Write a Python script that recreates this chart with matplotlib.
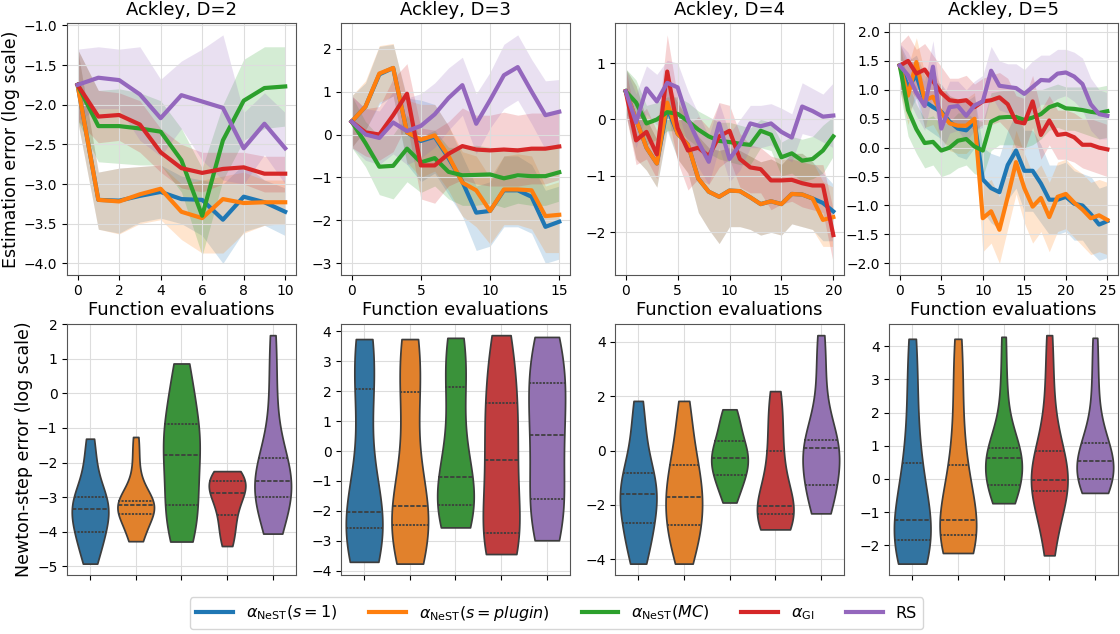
import matplotlib.pyplot as plt
import numpy as np
import pandas as pd
import seaborn as sns
from matplotlib.ticker import MultipleLocator

methods = ["NeST1", "NeSTplugin", "NeSTMC", "GI", "RS"]
labels = [r"$\alpha_{\mathrm{NeST}}(s=1)$", r"$\alpha_{\mathrm{NeST}}(s=plugin)$",
          r"$\alpha_{\mathrm{NeST}}(MC)$", r"$\alpha_{\mathrm{GI}}$", "RS"]
colors = ["#1f77b4", "#ff7f0e", "#2ca02c", "#d62728", "#9467bd"]
dims = [2, 3, 4, 5]

# estimation error curves: mean, lower and upper band per method
d2_mean = [
    [-1.75, -3.20, -3.21, -3.15, -3.10, -3.19, -3.20, -3.45, -3.16, -3.23, -3.35],
    [-1.75, -3.20, -3.22, -3.13, -3.06, -3.35, -3.43, -3.19, -3.24, -3.23, -3.23],
    [-1.75, -2.27, -2.27, -2.30, -2.34, -2.70, -3.40, -2.45, -1.95, -1.79, -1.77],
    [-1.75, -2.15, -2.13, -2.25, -2.60, -2.80, -2.86, -2.81, -2.79, -2.87, -2.87],
    [-1.75, -1.66, -1.69, -1.87, -2.17, -1.88, -1.96, -2.04, -2.55, -2.24, -2.55],
]
d2_low = [
    [-2.2, -3.57, -3.62, -3.48, -3.43, -3.50, -3.65, -4.00, -3.60, -3.52, -3.65],
    [-2.2, -3.57, -3.63, -3.50, -3.45, -3.70, -3.87, -3.87, -3.62, -3.52, -3.50],
    [-2.2, -2.72, -2.74, -2.76, -2.76, -3.10, -3.90, -2.95, -2.45, -2.30, -2.27],
    [-2.2, -2.48, -2.45, -2.60, -2.85, -3.05, -3.10, -3.00, -3.00, -3.10, -3.10],
    [-2.2, -2.05, -2.05, -2.45, -2.65, -2.30, -2.70, -2.95, -3.00, -2.63, -3.00],
]
d2_high = [
    [-1.3, -2.85, -2.80, -2.78, -2.76, -2.90, -2.95, -3.00, -2.75, -2.95, -3.05],
    [-1.3, -2.85, -2.80, -2.78, -2.76, -3.00, -2.95, -2.90, -2.85, -2.95, -2.95],
    [-1.3, -1.82, -1.80, -1.85, -1.95, -2.30, -2.80, -2.00, -1.43, -1.27, -1.27],
    [-1.3, -1.82, -1.85, -1.95, -2.30, -2.50, -2.60, -2.60, -2.60, -2.65, -2.65],
    [-1.3, -1.27, -1.30, -1.27, -1.68, -1.45, -1.30, -1.12, -2.10, -1.85, -2.10],
]

d3_mean = [
    [0.3, 0.65, 1.40, 1.55, 0.05, -0.15, -0.05, -0.55, -1.10, -1.82, -1.78, -1.30, -1.30, -1.45, -2.15, -2.03],
    [0.3, 0.65, 1.42, 1.55, 0.05, -0.12, -0.02, -0.50, -1.12, -1.30, -1.78, -1.28, -1.28, -1.30, -1.90, -1.87],
    [0.3, -0.20, -0.75, -0.73, -0.33, -0.65, -0.55, -0.87, -0.95, -0.94, -0.93, -1.02, -0.95, -0.97, -0.97, -0.88],
    [0.3, 0.05, 0.00, 0.45, 0.95, -0.72, -0.72, -0.45, -0.27, -0.35, -0.37, -0.35, -0.37, -0.33, -0.33, -0.28],
    [0.3, 0.00, -0.08, 0.28, 0.08, 0.20, 0.47, 0.85, 1.15, 0.25, 0.80, 1.38, 1.57, 1.00, 0.45, 0.53],
]
d3_low = [
    [-0.3, 0.10, 0.70, 0.90, -0.70, -1.10, -0.90, -1.40, -1.90, -2.70, -2.60, -2.15, -2.15, -2.30, -3.00, -2.90],
    [-0.3, 0.10, 0.75, 0.90, -0.65, -1.00, -0.85, -1.30, -1.90, -2.15, -2.55, -2.10, -2.10, -2.20, -2.75, -2.75],
    [-0.3, -0.75, -1.40, -1.50, -1.10, -1.35, -1.20, -1.50, -1.65, -1.65, -1.60, -1.70, -1.60, -1.65, -1.65, -1.55],
    [-0.3, -0.50, -0.60, -0.40, 0.25, -1.50, -1.60, -1.20, -1.05, -1.15, -1.20, -1.20, -1.20, -1.15, -1.15, -1.05],
    [-0.3, -0.60, -0.70, -0.45, -0.70, -0.55, -0.30, 0.10, 0.45, -0.45, 0.15, 0.60, 0.80, 0.25, -0.35, -0.25],
]
d3_high = [
    [0.9, 1.20, 2.05, 2.10, 0.85, 0.80, 0.70, 0.20, -0.50, -1.20, -1.10, -0.50, -0.50, -0.70, -1.30, -1.20],
    [0.9, 1.25, 2.07, 2.12, 0.80, 0.70, 0.70, 0.20, -0.40, -0.50, -1.00, -0.50, -0.45, -0.50, -1.20, -1.10],
    [0.9, 0.30, -0.05, 0.00, 0.45, -0.05, 0.10, -0.30, -0.30, -0.25, -0.30, -0.35, -0.30, -0.30, -0.30, -0.20],
    [0.9, 0.60, 0.65, 1.30, 1.65, 0.15, 0.10, 0.30, 0.62, 0.45, 0.45, 0.52, 0.45, 0.50, 0.50, 0.50],
    [0.9, 0.60, 0.55, 1.00, 0.85, 0.95, 1.20, 1.55, 1.80, 0.95, 1.45, 2.10, 2.32, 1.75, 1.25, 1.28],
]

d4_mean = [
    [0.5, 0.00, -0.50, -0.78, 0.20, -0.25, -0.45, -1.05, -1.28, -1.37, -1.26, -1.27, -1.38, -1.50, -1.45, -1.50, -1.32, -1.33, -1.40, -1.48, -1.63],
    [0.5, 0.00, -0.50, -0.78, 0.30, -0.25, -0.45, -1.05, -1.28, -1.37, -1.26, -1.27, -1.38, -1.50, -1.45, -1.50, -1.32, -1.33, -1.40, -1.78, -1.73],
    [0.5, 0.30, -0.07, 0.00, 0.13, 0.10, -0.03, -0.18, -0.30, -0.38, -0.40, -0.43, -0.45, -0.20, -0.27, -0.67, -0.60, -0.73, -0.70, -0.55, -0.30],
    [0.5, -0.37, -0.22, -0.62, 0.85, -0.15, -0.55, -0.50, -0.65, -0.30, -0.20, -0.70, -0.85, -0.88, -1.08, -1.08, -1.07, -1.13, -1.17, -1.17, -2.05],
    [0.5, -0.05, 0.55, 0.32, 0.65, 0.57, 0.00, -0.40, -0.75, -0.07, -0.70, -0.45, -0.07, -0.12, -0.07, -0.22, -0.32, 0.23, 0.15, 0.05, 0.07],
]
d4_low = [
    [0.1, -0.70, -0.90, -1.20, -0.20, -0.70, -0.95, -1.65, -1.95, -2.20, -1.90, -1.90, -1.95, -2.05, -2.00, -2.05, -1.85, -1.90, -1.95, -2.15, -2.15],
    [0.1, -0.70, -0.90, -1.20, -0.15, -0.70, -0.95, -1.65, -1.95, -2.20, -1.90, -1.90, -1.95, -2.05, -2.00, -2.05, -1.85, -1.90, -1.95, -2.25, -2.25],
    [0.1, -0.10, -0.45, -0.35, -0.20, -0.20, -0.35, -0.50, -0.60, -0.70, -0.75, -0.80, -0.80, -0.50, -0.55, -1.00, -0.95, -1.10, -1.05, -0.95, -0.65],
    [0.1, -0.80, -0.70, -1.05, 0.15, -0.75, -1.25, -1.05, -1.15, -0.85, -0.70, -1.20, -1.30, -1.30, -1.60, -1.50, -1.45, -1.55, -1.60, -1.65, -2.55],
    [0.1, -0.50, 0.10, -0.10, 0.25, 0.15, -0.45, -0.85, -1.15, -0.50, -1.10, -0.90, -0.50, -0.50, -0.45, -0.65, -0.75, -0.25, -0.30, -0.40, -0.50],
]
d4_high = [
    [0.9, 0.60, 0.00, -0.35, 0.60, 0.30, 0.00, -0.30, -0.50, -0.55, -0.50, -0.55, -0.65, -0.75, -0.70, -0.80, -0.60, -0.60, -0.75, -0.95, -1.15],
    [0.9, 0.60, 0.00, -0.35, 0.70, 0.30, 0.00, -0.30, -0.50, -0.55, -0.50, -0.55, -0.65, -0.75, -0.70, -0.80, -0.60, -0.60, -0.75, -1.10, -1.20],
    [0.9, 0.70, 0.25, 0.30, 0.40, 0.40, 0.30, 0.15, 0.05, -0.05, -0.05, -0.10, -0.15, 0.00, -0.05, -0.40, -0.30, -0.35, -0.30, -0.10, 0.05],
    [0.9, 0.00, 0.20, -0.20, 1.50, 0.40, -0.10, 0.05, -0.15, 0.30, 0.25, -0.25, -0.45, -0.50, -0.65, -0.70, -0.70, -0.75, -0.80, -0.80, -1.60],
    [0.9, 0.45, 0.95, 0.80, 1.05, 1.00, 0.50, 0.10, -0.30, 0.30, -0.25, 0.00, 0.25, 0.25, 0.28, 0.20, 0.10, 0.65, 0.55, 0.45, 0.65],
]

d5_mean = [
    [1.42, 1.05, 1.25, 0.80, 0.70, 0.62, 0.45, 0.33, 0.30, 0.45, -0.55, -0.70, -0.77, -0.30, -0.05, -0.40, -0.40, -0.62, -0.90, -0.90, -0.85, -0.97, -1.00, -1.15, -1.33, -1.27],
    [1.42, 0.90, 1.48, 0.82, 0.88, 0.60, 0.42, 0.38, 0.38, 0.50, -1.22, -1.10, -1.42, -0.85, -0.25, -0.70, -1.02, -0.87, -1.20, -0.85, -0.80, -0.95, -1.07, -1.22, -1.17, -1.25],
    [1.42, 0.65, 0.32, 0.08, 0.10, -0.05, 0.00, 0.12, 0.15, 0.02, -0.05, 0.45, 0.52, 0.53, 0.53, 0.48, 0.52, 0.58, 0.70, 0.75, 0.68, 0.67, 0.65, 0.62, 0.60, 0.63],
    [1.42, 1.50, 1.28, 1.35, 1.15, 0.95, 0.82, 0.80, 0.82, 0.70, 0.80, 0.82, 0.87, 0.75, 0.45, 0.42, 0.80, 0.22, 0.47, 0.22, 0.24, 0.18, 0.05, 0.05, 0.00, -0.03],
    [1.42, 1.25, 0.95, 0.72, 1.40, 0.33, 0.70, 0.72, 0.55, 0.73, 0.80, 1.33, 1.07, 1.05, 1.03, 0.93, 1.05, 1.17, 1.16, 1.28, 1.30, 1.23, 1.10, 0.75, 0.58, 0.55],
]
d5_low = [
    [1.0, 0.60, 0.85, 0.35, 0.25, 0.15, 0.00, -0.15, -0.20, 0.00, -1.10, -1.30, -1.40, -0.90, -0.70, -1.10, -1.10, -1.30, -1.50, -1.50, -1.45, -1.60, -1.60, -1.80, -1.95, -1.90],
    [1.0, 0.40, 1.05, 0.35, 0.40, 0.15, -0.05, -0.10, -0.10, 0.05, -1.80, -1.65, -2.00, -1.40, -0.80, -1.30, -1.65, -1.45, -1.80, -1.45, -1.40, -1.55, -1.70, -1.85, -1.80, -1.85],
    [1.0, 0.20, -0.10, -0.35, -0.30, -0.50, -0.45, -0.35, -0.30, -0.45, -0.50, -0.05, 0.05, 0.05, 0.05, 0.00, 0.05, 0.15, 0.30, 0.35, 0.30, 0.30, 0.25, 0.20, 0.15, 0.18],
    [1.0, 1.05, 0.85, 0.90, 0.70, 0.50, 0.40, 0.40, 0.40, 0.30, 0.40, 0.40, 0.45, 0.30, 0.00, -0.05, 0.35, -0.20, 0.05, -0.20, -0.20, -0.25, -0.35, -0.40, -0.45, -0.50],
    [1.0, 0.85, 0.55, 0.30, 0.95, -0.10, 0.25, 0.30, 0.10, 0.30, 0.35, 0.90, 0.65, 0.60, 0.60, 0.50, 0.60, 0.75, 0.75, 0.85, 0.90, 0.80, 0.65, 0.30, 0.15, 0.15],
]
d5_high = [
    [1.8, 1.50, 1.60, 1.25, 1.15, 1.10, 0.90, 0.80, 0.80, 0.90, 0.00, -0.10, -0.15, 0.30, 0.60, 0.30, 0.30, 0.05, -0.30, -0.30, -0.25, -0.40, -0.45, -0.50, -0.70, -0.65],
    [1.8, 1.40, 1.90, 1.30, 1.35, 1.05, 0.90, 0.85, 0.85, 0.95, -0.65, -0.55, -0.85, -0.30, 0.30, -0.10, -0.45, -0.30, -0.60, -0.25, -0.20, -0.35, -0.45, -0.60, -0.55, -0.60],
    [1.8, 1.10, 0.75, 0.50, 0.55, 0.40, 0.45, 0.60, 0.60, 0.50, 0.45, 0.95, 0.98, 1.00, 1.00, 0.95, 1.00, 1.00, 1.05, 1.10, 1.05, 1.05, 1.05, 1.05, 1.05, 1.08],
    [1.8, 1.95, 1.70, 1.80, 1.60, 1.40, 1.20, 1.20, 1.25, 1.10, 1.20, 1.25, 1.30, 1.20, 0.90, 0.85, 1.25, 0.65, 0.90, 0.65, 0.65, 0.60, 0.50, 0.50, 0.45, 0.40],
    [1.8, 1.65, 1.35, 1.15, 1.85, 0.80, 1.15, 1.15, 1.00, 1.15, 1.25, 1.75, 1.50, 1.45, 1.45, 1.35, 1.50, 1.60, 1.60, 1.70, 1.70, 1.65, 1.55, 1.20, 1.00, 0.95],
]

# Newton-step errors (log scale), one sample list per method
d2_newton = [
    [-4.93, -4.70, -4.40, -4.15, -4.00, -3.85, -3.70, -3.50, -3.35, -3.25, -3.15, -3.05, -2.99, -2.70, -2.30, -1.80, -1.31],
    [-4.28, -4.20, -4.00, -3.75, -3.49, -3.43, -3.36, -3.30, -3.23, -3.20, -3.17, -3.14, -3.11, -2.80, -2.40, -1.80, -1.26],
    [-4.29, -4.10, -3.80, -3.50, -3.24, -2.90, -2.50, -2.10, -1.77, -1.55, -1.30, -1.10, -0.88, -0.50, 0.00, 0.50, 0.87],
    [-4.42, -4.20, -3.95, -3.70, -3.51, -3.30, -3.10, -3.00, -2.87, -2.80, -2.70, -2.60, -2.55, -2.45, -2.35, -2.28, -2.25],
    [-4.06, -3.80, -3.50, -3.20, -2.99, -2.90, -2.75, -2.65, -2.55, -2.35, -2.15, -2.00, -1.86, -1.20, -0.30, 0.70, 1.69],
]
d3_newton = [
    [-3.70, -3.50, -3.20, -2.90, -2.57, -2.45, -2.30, -2.15, -2.03, -1.50, -0.50, 0.80, 2.06, 2.60, 3.10, 3.50, 3.74],
    [-3.76, -3.50, -3.10, -2.80, -2.46, -2.30, -2.15, -2.00, -1.85, -1.30, -0.30, 0.90, 1.96, 2.50, 3.00, 3.50, 3.74],
    [-2.55, -2.40, -2.20, -2.00, -1.81, -1.60, -1.35, -1.10, -0.88, -0.40, 0.30, 1.20, 2.14, 2.60, 3.10, 3.50, 3.78],
    [-3.44, -3.30, -3.10, -2.90, -2.73, -2.20, -1.50, -0.80, -0.29, 0.20, 0.70, 1.20, 1.61, 2.20, 2.90, 3.50, 3.87],
    [-2.98, -2.70, -2.30, -1.95, -1.61, -1.10, -0.50, 0.10, 0.54, 1.00, 1.50, 1.90, 2.27, 2.70, 3.20, 3.60, 3.81],
]
d4_newton = [
    [-4.16, -3.80, -3.40, -3.00, -2.68, -2.40, -2.10, -1.85, -1.61, -1.40, -1.20, -1.00, -0.84, -0.30, 0.40, 1.10, 1.83],
    [-4.16, -3.80, -3.40, -3.00, -2.74, -2.45, -2.20, -1.95, -1.71, -1.40, -1.10, -0.80, -0.52, -0.10, 0.50, 1.20, 1.83],
    [-1.91, -1.60, -1.30, -1.05, -0.88, -0.70, -0.55, -0.40, -0.29, -0.10, 0.05, 0.20, 0.34, 0.70, 1.00, 1.30, 1.52],
    [-2.90, -2.75, -2.60, -2.45, -2.35, -2.25, -2.15, -2.08, -2.03, -1.50, -1.00, -0.50, -0.03, 0.60, 1.20, 1.80, 2.19],
    [-2.31, -2.00, -1.70, -1.45, -1.26, -0.90, -0.50, -0.20, 0.08, 0.16, 0.24, 0.31, 0.39, 1.20, 2.20, 3.30, 4.25],
]
d5_newton = [
    [-2.55, -2.40, -2.20, -2.00, -1.83, -1.70, -1.55, -1.40, -1.25, -0.80, -0.30, 0.10, 0.47, 1.30, 2.30, 3.30, 4.22],
    [-2.23, -2.10, -1.95, -1.80, -1.70, -1.60, -1.45, -1.35, -1.23, -0.80, -0.30, 0.10, 0.41, 1.30, 2.30, 3.30, 4.22],
    [-0.73, -0.55, -0.40, -0.28, -0.18, 0.05, 0.30, 0.50, 0.64, 0.72, 0.80, 0.87, 0.93, 1.40, 2.10, 3.00, 4.28],
    [-2.30, -1.70, -1.10, -0.60, -0.36, -0.28, -0.20, -0.10, -0.03, 0.20, 0.45, 0.65, 0.85, 1.40, 2.20, 3.20, 4.33],
    [-0.42, -0.30, -0.20, -0.10, 0.01, 0.15, 0.30, 0.42, 0.55, 0.70, 0.85, 0.97, 1.08, 1.60, 2.30, 3.20, 4.25],
]

curves = [(d2_mean, d2_low, d2_high), (d3_mean, d3_low, d3_high),
          (d4_mean, d4_low, d4_high), (d5_mean, d5_low, d5_high)]
newton = [d2_newton, d3_newton, d4_newton, d5_newton]

# tick spacing per panel
top_xstep = [2, 5, 5, 5]
top_ystep = [0.5, 1, 1, 0.5]
bottom_ystep = [1, 1, 2, 1]

fig, axes = plt.subplots(2, 4, figsize=(11.2, 6.34), dpi=100)
fig.subplots_adjust(left=0.06, right=0.998, top=0.963, bottom=0.093, wspace=0.2, hspace=0.195)

for col, d in enumerate(dims):
    ax = axes[0, col]
    mean, low, high = curves[col]
    for i in range(len(methods)):
        x = np.arange(len(mean[i]))
        ax.fill_between(x, low[i], high[i], color=colors[i], alpha=0.2, linewidth=0)
        ax.plot(x, mean[i], color=colors[i], linewidth=3, label=labels[i])
    ax.set_title(f"Ackley, D={d}", fontsize=13)
    ax.set_xlabel("Function evaluations", fontsize=13, labelpad=2)
    ax.xaxis.set_major_locator(MultipleLocator(top_xstep[col]))
    ax.yaxis.set_major_locator(MultipleLocator(top_ystep[col]))
    ax.grid(True, color="#dddddd", linewidth=0.8)
    ax.tick_params(labelsize=10)

    ax = axes[1, col]
    df = pd.DataFrame({
        "method": np.repeat(methods, [len(s) for s in newton[col]]),
        "err": np.concatenate(newton[col]),
    })
    sns.violinplot(data=df, x="method", y="err", hue="method", palette=colors,
                   cut=0, inner="quart", density_norm="width", legend=False, ax=ax)
    ax.set_xticks(range(len(methods)))
    ax.set_xticklabels([])
    ax.set_xlabel("")
    ax.set_ylabel("")
    ax.set_xlim(-0.5, 4.5)
    ax.yaxis.set_major_locator(MultipleLocator(bottom_ystep[col]))
    ax.grid(True, color="#dddddd", linewidth=0.8)
    ax.set_axisbelow(True)
    ax.tick_params(labelsize=10)

for ax in axes.flat:
    for s in ax.spines.values():
        s.set_color("#555555")

axes[0, 0].set_ylabel("Estimation error (log scale)", fontsize=12.5, labelpad=3)
axes[1, 0].set_ylabel("Newton-step error (log scale)", fontsize=12.5, labelpad=3)

handles, _ = axes[0, 0].get_legend_handles_labels()
fig.legend(handles, labels, loc="lower center", ncol=5, fontsize=11.5,
           bbox_to_anchor=(0.497, -0.005), handlelength=2.3, columnspacing=2.0)

fig.savefig("out.png", dpi=100)
